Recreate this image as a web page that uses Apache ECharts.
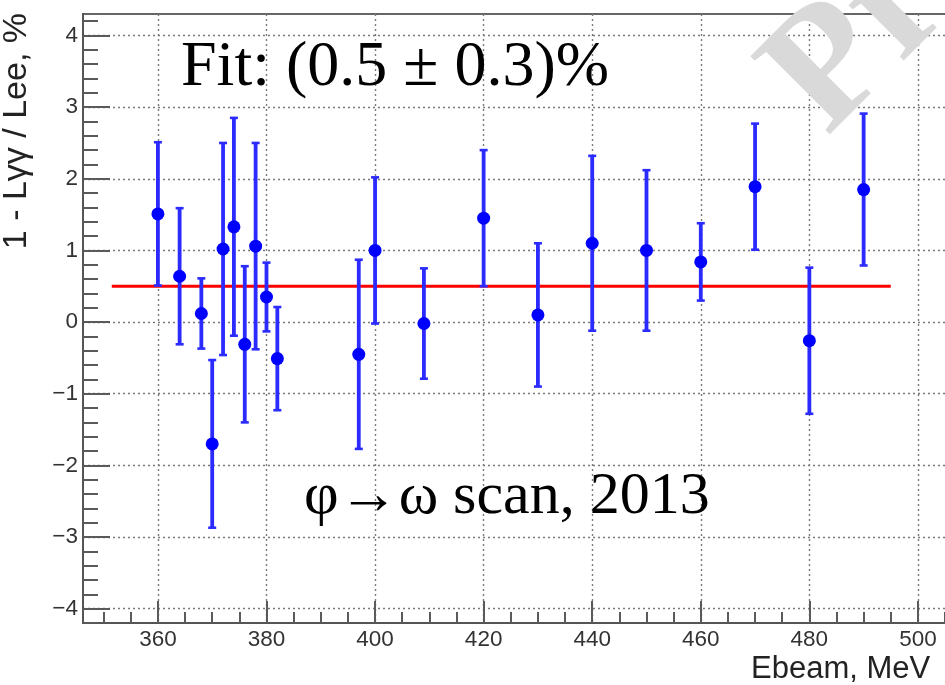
<!DOCTYPE html>
<html><head><meta charset="utf-8">
<script src="https://cdn.jsdelivr.net/npm/echarts@6/dist/echarts.min.js"></script>
<style>html,body{margin:0;padding:0;background:#fff;overflow:hidden}#c{width:945px;height:685px}</style>
</head><body><div id="c"></div>
<script>
// ---- data ----
const energies = [360, 364, 368, 370, 372, 374, 376, 378, 380, 382, 397, 400, 409, 420, 430, 440, 450, 460, 470, 480, 490];
const values   = [1.51, 0.64, 0.12, -1.70, 1.02, 1.33, -0.31, 1.06, 0.35, -0.51, -0.45, 1.00, -0.02, 1.45, 0.10, 1.10, 1.00, 0.84, 1.89, -0.26, 1.85];
const errors   = [1.00, 0.95, 0.49, 1.17, 1.48, 1.52, 1.09, 1.44, 0.48, 0.72, 1.32, 1.02, 0.77, 0.95, 1.00, 1.22, 1.12, 0.54, 0.88, 1.02, 1.06];
const fitValue = 0.5;
const fitRange = [351.5, 495];
const xTicks = [360, 380, 400, 420, 440, 460, 480, 500, 520];
const yTicks = [-4, -3, -2, -1, 0, 1, 2, 3, 4];
const xRange = [346.2, 520];
const yRange = [-4.2, 4.3];
const xTitle = 'Ebeam, MeV';
const yTitle = '1 - Lγγ / Lee, %';
const fitText = 'Fit: (0.5 ± 0.3)%';
const scanText = 'φ→ω scan, 2013';
const watermark = 'Preliminary';

const xMinor = []; for (let v = 350; v <= 520; v += 5) xMinor.push(v);
const yMinor = []; for (let i = -21; i <= 21; i++) yMinor.push(+(i * 0.2).toFixed(1));

const chart = echarts.init(document.getElementById('c'), null, {renderer: 'canvas'});
const gridPos = {left: 83, top: 14, width: 943.5, height: 609, outerBoundsMode: 'none', containLabel: false};
const tickColor = '#5a5a5a';
const gridLineStyle = {color: '#7a7a7a', type: [2, 3], width: 1.4};
const labelStyle = {color: '#333', fontSize: 22.5, fontFamily: 'Liberation Sans, Arial, sans-serif'};
const blue = '#2b2bff';

const option = {
  animation: false,
  backgroundColor: '#fff',
  grid: [
    Object.assign({show: true, borderColor: '#666', borderWidth: 2, backgroundColor: 'transparent'}, gridPos),
    Object.assign({show: false}, gridPos)
  ],
  xAxis: [
    {type: 'value', gridIndex: 0, min: xRange[0], max: xRange[1],
     axisLine: {show: true, onZero: false, lineStyle: {color: '#555', width: 2}},
     axisTick: {show: true, inside: true, length: 22, customValues: xTicks, lineStyle: {color: tickColor, width: 2}},
     axisLabel: Object.assign({show: true, customValues: xTicks, margin: 5}, labelStyle),
     splitLine: {show: true, lineStyle: gridLineStyle}},
    {type: 'value', gridIndex: 1, min: xRange[0], max: xRange[1],
     axisLine: {show: false, onZero: false},
     axisTick: {show: true, inside: true, length: 11, customValues: xMinor, lineStyle: {color: tickColor, width: 2}},
     axisLabel: {show: false}, splitLine: {show: false}}
  ],
  yAxis: [
    {type: 'value', gridIndex: 0, min: yRange[0], max: yRange[1],
     axisLine: {show: true, onZero: false, lineStyle: {color: '#555', width: 2}},
     axisTick: {show: true, inside: true, length: 27, customValues: yTicks, lineStyle: {color: tickColor, width: 2}},
     axisLabel: Object.assign({show: true, customValues: yTicks, margin: 5,
       formatter: v => (v < 0 ? '\u2212' + Math.abs(v) : String(v))}, labelStyle),
     splitLine: {show: true, lineStyle: gridLineStyle}},
    {type: 'value', gridIndex: 1, min: yRange[0], max: yRange[1],
     axisLine: {show: false, onZero: false},
     axisTick: {show: true, inside: true, length: 15, customValues: yMinor, lineStyle: {color: tickColor, width: 2}},
     axisLabel: {show: false}, splitLine: {show: false}}
  ],
  series: [
    {type: 'line', xAxisIndex: 0, yAxisIndex: 0, symbol: 'none', silent: true, z: 3,
     data: [[fitRange[0], fitValue], [fitRange[1], fitValue]],
     lineStyle: {color: '#ff0000', width: 3}},
    {type: 'custom', xAxisIndex: 0, yAxisIndex: 0, z: 4,
     encode: {x: 0, y: 1},
     data: energies.map((e, i) => [e, values[i], errors[i]]),
     renderItem: function (params, api) {
       const x = api.value(0), y = api.value(1), e = api.value(2);
       const top = api.coord([x, y + e]);
       const bot = api.coord([x, y - e]);
       const c = api.coord([x, y]);
       const cw = 4;
       return {type: 'group', children: [
         {type: 'line', shape: {x1: top[0], y1: top[1], x2: bot[0], y2: bot[1]}, style: {stroke: blue, lineWidth: 3.8}},
         {type: 'line', shape: {x1: top[0] - cw, y1: top[1], x2: top[0] + cw, y2: top[1]}, style: {stroke: blue, lineWidth: 2.6}},
         {type: 'line', shape: {x1: bot[0] - cw, y1: bot[1], x2: bot[0] + cw, y2: bot[1]}, style: {stroke: blue, lineWidth: 2.6}},
         {type: 'circle', shape: {cx: c[0], cy: c[1], r: 6.5}, style: {fill: '#0000ff'}}
       ]};
     }}
  ],
  graphic: [
    {type: 'text', x: 181, y: 68.5, z: 50,
     style: {text: fitText, font: '64px "Liberation Serif", "Times New Roman", serif', fill: '#000', textAlign: 'left', textVerticalAlign: 'middle'}},
    {type: 'text', x: 304, y: 497, z: 50,
     style: {text: scanText, font: '60px "Liberation Serif", "Times New Roman", serif', fill: '#000', textAlign: 'left', textVerticalAlign: 'middle'}},
    {type: 'text', x: 751, y: 669.5, z: 50,
     style: {text: xTitle, font: '31px "Liberation Sans", Arial, sans-serif', fill: '#222', textAlign: 'left', textVerticalAlign: 'middle'}},
    {type: 'text', x: 17, y: 13, rotation: Math.PI / 2, z: 50,
     style: {text: yTitle, font: '34px "Liberation Sans", Arial, sans-serif', fill: '#222', textAlign: 'right', textVerticalAlign: 'middle'}},
    {type: 'text', x: 796, y: 106, rotation: Math.PI / 4, z: 100,
     style: {text: watermark, font: 'bold 170px "Liberation Serif", "Times New Roman", serif', fill: '#d9d9d9', textAlign: 'left', textVerticalAlign: 'middle'}}
  ]
};
chart.setOption(option);
</script>
</body></html>
